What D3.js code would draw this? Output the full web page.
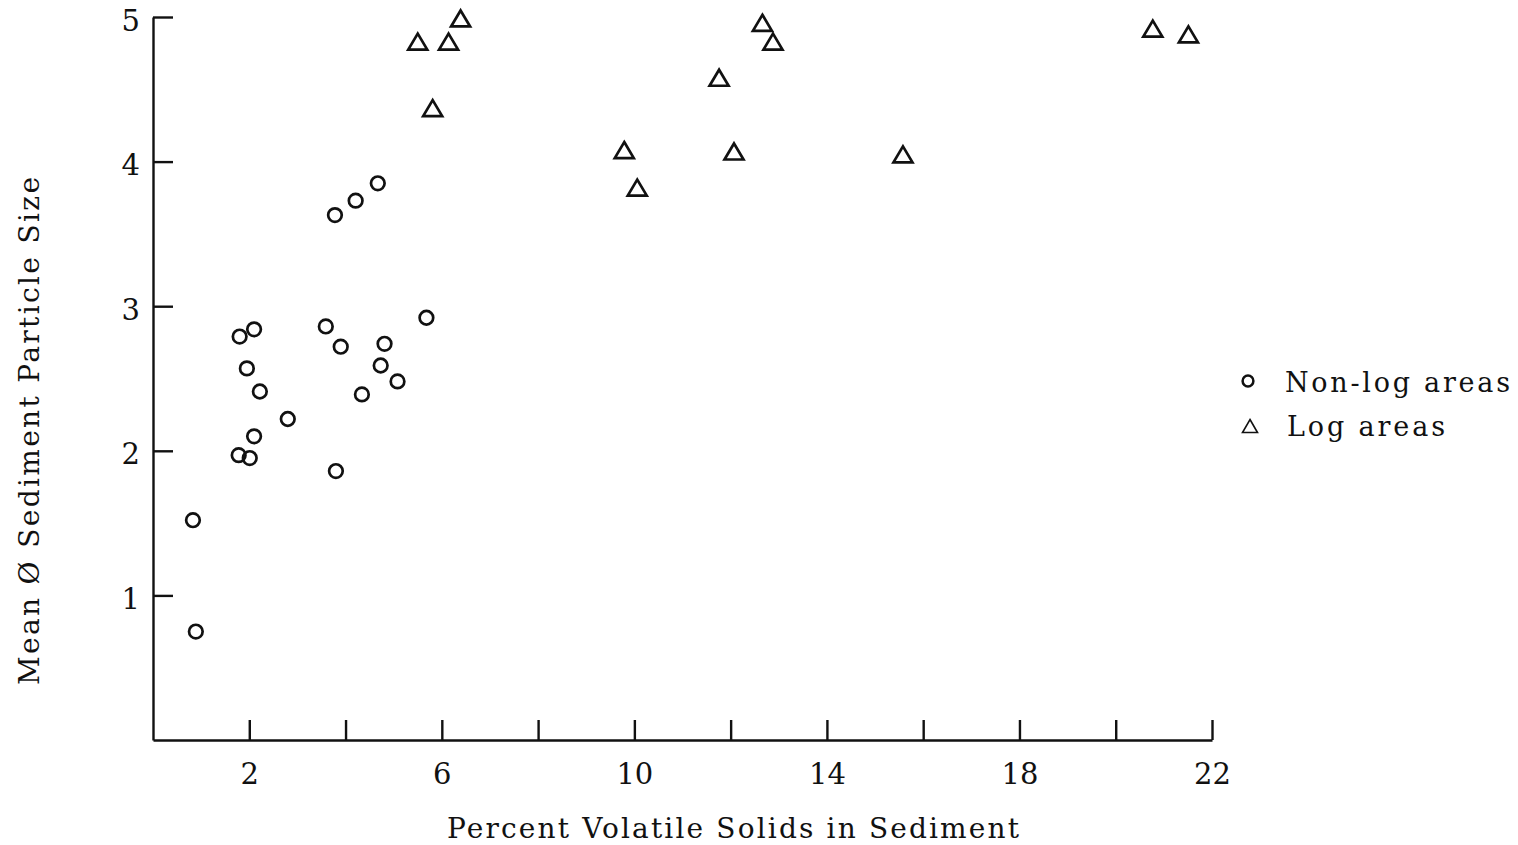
<!DOCTYPE html>
<html>
<head>
<meta charset="utf-8">
<script src="https://cdn.jsdelivr.net/npm/d3@7"></script>
<style>
  body { margin: 0; background: #fff; }
  text { font-family: "DejaVu Serif", "Liberation Serif", serif; fill: #111; }
</style>
</head>
<body>
<script>
// 数据：非伐木区（圆圈）
var nonLogX = [0.83, 0.89, 1.80, 2.10, 1.95, 2.22, 1.78, 2.01, 2.10, 2.80,
               3.78, 4.21, 4.67, 3.59, 3.90, 4.81, 4.73, 4.34, 5.08, 5.68, 3.80];
var nonLogY = [1.52, 0.75, 2.79, 2.84, 2.57, 2.41, 1.97, 1.95, 2.10, 2.22,
               3.63, 3.73, 3.85, 2.86, 2.72, 2.74, 2.59, 2.39, 2.48, 2.92, 1.86];
// 数据：伐木区（三角形）
var logX = [5.50, 6.14, 6.39, 5.81, 9.79, 10.06, 11.76, 12.07, 12.66, 12.88, 15.58, 20.77, 21.51];
var logY = [4.83, 4.83, 4.99, 4.37, 4.08, 3.82, 4.58, 4.07, 4.96, 4.83, 4.05, 4.92, 4.88];

var xTicks = [2, 4, 6, 8, 10, 12, 14, 16, 18, 20, 22];
var xLabels = [2, 6, 10, 14, 18, 22];
var yTicks = [1, 2, 3, 4, 5];

var legendNames = ["Non-log areas", "Log areas"];

var svg = d3.select("body")
    .append("svg")
    .attr("width", 1518)
    .attr("height", 845);

var x = d3.scaleLinear().domain([0, 22]).range([153, 1212]);  //x比例尺
var y = d3.scaleLinear().domain([0, 5]).range([740, 17]);     //y比例尺

// x轴
var xAxis = svg.append("g")
    .attr("transform", "translate(0,740)")
    .call(d3.axisBottom(x)
        .tickValues(xTicks)
        .tickSize(-20)
        .tickSizeOuter(0)
        .tickPadding(23)
        .tickFormat(function (d) { return xLabels.indexOf(d) >= 0 ? d : ""; }));

// y轴
var yAxis = svg.append("g")
    .attr("transform", "translate(153,0)")
    .call(d3.axisLeft(y)
        .tickValues(yTicks)
        .tickSize(-20)
        .tickSizeOuter(0)
        .tickPadding(13)
        .tickFormat(d3.format("d")));

svg.selectAll(".domain, .tick line")
    .attr("stroke", "#111")
    .attr("stroke-width", 2.4);
svg.selectAll(".tick text")
    .attr("font-size", 29)
    .attr("font-family", "DejaVu Serif")
    .attr("fill", "#111");
yAxis.selectAll(".tick text").attr("dy", "0.45em");

// 坐标轴标题
svg.append("text")
    .attr("x", 447)
    .attr("y", 838)
    .attr("font-size", 28)
    .attr("textLength", 572)
    .attr("lengthAdjust", "spacing")
    .text("Percent Volatile Solids in Sediment");

svg.append("text")
    .attr("transform", "translate(39,685) rotate(-90)")
    .attr("font-size", 28)
    .attr("textLength", 508)
    .attr("lengthAdjust", "spacing")
    .text("Mean \u00D8 Sediment Particle Size");

// 三角形路径
function tri(w, h) {
    return "M0," + (-h / 2) + "L" + (w / 2) + "," + (h / 2) + "L" + (-w / 2) + "," + (h / 2) + "Z";
}

// 圆圈点
svg.append("g")
    .selectAll("circle")
    .data(d3.range(nonLogX.length))
    .enter()
    .append("circle")
    .attr("cx", function (i) { return x(nonLogX[i]); })
    .attr("cy", function (i) { return y(nonLogY[i]); })
    .attr("r", 6.8)
    .attr("fill", "none")
    .attr("stroke", "#111")
    .attr("stroke-width", 2.7);

// 三角形点
svg.append("g")
    .selectAll("path")
    .data(d3.range(logX.length))
    .enter()
    .append("path")
    .attr("transform", function (i) { return "translate(" + x(logX[i]) + "," + y(logY[i]) + ")"; })
    .attr("d", tri(19, 16))
    .attr("fill", "none")
    .attr("stroke", "#111")
    .attr("stroke-width", 2.7)
    .attr("stroke-linejoin", "miter");

// 图例
var legend = svg.append("g");
legend.append("circle")
    .attr("cx", 1248)
    .attr("cy", 381)
    .attr("r", 5.4)
    .attr("fill", "none")
    .attr("stroke", "#111")
    .attr("stroke-width", 2.5);
legend.append("path")
    .attr("transform", "translate(1250,426)")
    .attr("d", tri(15, 13))
    .attr("fill", "none")
    .attr("stroke", "#111")
    .attr("stroke-width", 1.6);
legend.selectAll("text")
    .data(legendNames)
    .enter()
    .append("text")
    .attr("x", function (d, i) { return i === 0 ? 1285 : 1287; })
    .attr("y", function (d, i) { return 392 + i * 44; })
    .attr("font-size", 27)
    .attr("textLength", function (d, i) { return i === 0 ? 225 : 158; })
    .attr("lengthAdjust", "spacing")
    .text(function (d) { return d; });
</script>
</body>
</html>
